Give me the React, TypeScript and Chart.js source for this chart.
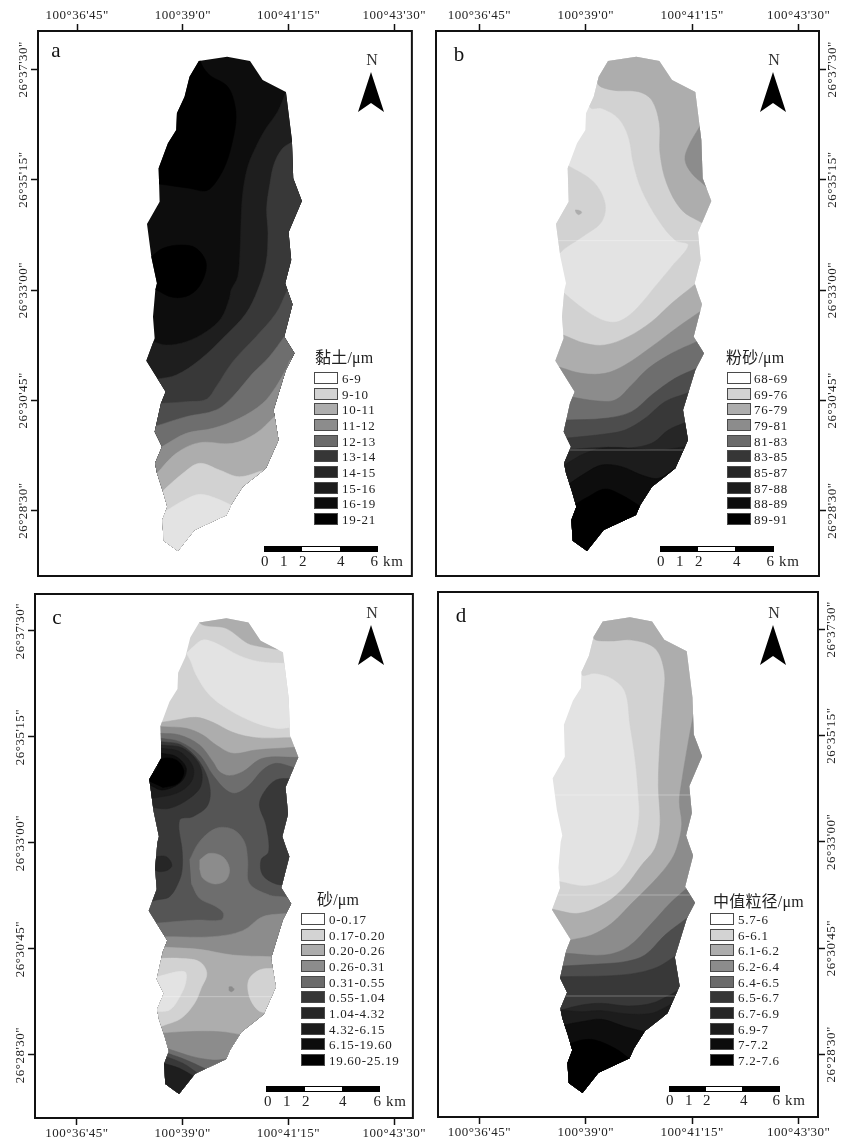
import React, { useEffect, useRef } from "react";
import { Chart, registerables } from "chart.js";

Chart.register(...registerables);

type P = number[];

// Axis values (minutes of arc past 100 deg / 26 deg) and their printed labels
const lonTicks = [36.75, 39, 41.25, 43.5];
const lonLabels = ["100°36'45\"", "100°39'0\"", "100°41'15\"", "100°43'30\""];
const latTicks = [28.5, 30.75, 33, 35.25, 37.5];
const latLabels = ["26°28'30\"", "26°30'45\"", "26°33'00\"", "26°35'15\"", "26°37'30\""];

// Legend classes
const clayClasses = ["6-9", "9-10", "10-11", "11-12", "12-13", "13-14", "14-15", "15-16", "16-19", "19-21"];
const siltClasses = ["68-69", "69-76", "76-79", "79-81", "81-83", "83-85", "85-87", "87-88", "88-89", "89-91"];
const sandClasses = ["0-0.17", "0.17-0.20", "0.20-0.26", "0.26-0.31", "0.31-0.55", "0.55-1.04", "1.04-4.32", "4.32-6.15", "6.15-19.60", "19.60-25.19"];
const medianClasses = ["5.7-6", "6-6.1", "6.1-6.2", "6.2-6.4", "6.4-6.5", "6.5-6.7", "6.7-6.9", "6.9-7", "7-7.2", "7.2-7.6"];
const scaleKm = ["0", "1", "2", "4", "6 km"];

// Basin outline, digitised on a map grid
const basinOutline: P[] = [
  [598,183],[683,170],[752,183],[790,240],[860,276],[878,420],[882,535],[908,603],[868,697],[876,780],[858,850],[868,880],
  [880,913],[855,1010],[886,1060],[860,1110],[823,1230],[838,1320],[800,1405],[775,1425],[730,1460],[695,1515],[682,1545],
  [585,1590],[535,1653],[492,1622],[488,1560],[503,1520],[490,1475],[472,1420],[466,1390],[487,1340],[465,1295],[484,1210],
  [498,1175],[440,1082],[465,1015],[460,950],[467,870],[472,850],[455,770],[442,672],[480,605],[477,505],[505,430],[530,390],
  [532,340],[555,290],[570,230],
];

// Contour regions of each panel, digitised on that panel's own map grid, painted in order
const clayContours: P[][] = [
  [[300,100],[1000,100],[1000,1700],[300,1700]],
  [[598,150],[605,190],[630,225],[680,255],[700,290],[710,350],[700,420],[680,490],[650,545],[620,572],[570,565],[478,552],[400,552],[400,150]],
  [[400,770],[455,770],[490,745],[545,735],[590,745],[620,790],[605,850],[570,885],[520,892],[470,870],[400,870]],
  [[1000,276],[860,276],[835,335],[800,385],[770,440],[745,500],[730,580],[725,660],[722,750],[715,830],[695,870],[690,895],[665,955],[620,995],[560,1025],[500,1035],[460,1025],[400,1025],[400,1700],[1000,1700]],
  [[1000,425],[880,425],[850,445],[825,490],[812,550],[802,625],[806,700],[800,790],[775,870],[740,940],[680,1005],[600,1080],[530,1125],[470,1138],[400,1138],[400,1700],[1000,1700]],
  [[1000,875],[862,875],[830,940],[770,1010],[700,1085],[650,1160],[620,1198],[560,1205],[487,1210],[400,1210],[400,1700],[1000,1700]],
  [[1000,1010],[855,1010],[810,1070],[760,1120],[700,1190],[650,1230],[560,1250],[470,1278],[400,1278],[400,1700],[1000,1700]],
  [[1000,1105],[862,1105],[830,1160],[790,1210],[720,1255],[640,1285],[560,1300],[487,1340],[400,1340],[400,1700],[1000,1700]],
  [[1000,1250],[825,1250],[770,1300],[700,1330],[600,1328],[530,1360],[470,1422],[400,1422],[400,1700],[1000,1700]],
  [[1000,1400],[795,1410],[720,1430],[660,1410],[600,1390],[550,1420],[487,1475],[400,1475],[400,1700],[1000,1700]],
  [[1000,1515],[695,1515],[650,1495],[600,1483],[555,1500],[503,1530],[400,1530],[400,1700],[1000,1700]],
];
const clayTones = ["#0d0d0d","#000000","#000000","#1e1e1e","#383838","#4d4d4d","#6e6e6e","#8c8c8c","#adadad","#d2d2d2","#e3e3e3"];

const siltContours: P[][] = [
  [[300,100],[1000,100],[1000,1700],[300,1700]],
  [[300,495],[430,497],[505,545],[540,610],[530,665],[480,705],[420,745],[402,762],[300,762]],
  [[460,200],[495,322],[530,325],[580,355],[610,410],[625,490],[650,570],[700,660],[750,720],[790,735],[740,800],[690,860],[640,920],[600,955],[565,967],[520,955],[460,915],[418,880],[300,880],[300,1700],[1000,1700],[1000,200]],
  [[517,100],[517,248],[560,270],[640,275],[680,300],[703,370],[705,460],[725,550],[770,630],[830,668],[1000,668],[1000,100]],
  [[1000,378],[825,378],[790,440],[780,480],[800,520],[838,555],[1000,555]],
  [[450,630],[461,631],[470,637],[461,644],[452,637]],
  [[1000,855],[808,855],[740,910],[680,965],[610,1010],[540,1035],[480,1030],[415,1005],[300,1005],[300,1700],[1000,1700]],
  [[1000,935],[825,935],[760,980],[680,1040],[600,1095],[540,1120],[470,1120],[405,1102],[300,1102],[300,1700],[1000,1700]],
  [[1000,1025],[815,1025],[740,1060],[670,1105],[620,1155],[570,1200],[510,1202],[445,1192],[300,1192],[300,1700],[1000,1700]],
  [[1000,1105],[815,1105],[750,1135],[680,1185],[620,1235],[540,1255],[425,1260],[300,1260],[300,1700],[1000,1700]],
  [[1000,1180],[785,1180],[720,1205],[660,1255],[600,1290],[540,1302],[418,1315],[300,1315],[300,1700],[1000,1700]],
  [[1000,1270],[775,1270],[730,1290],[680,1330],[600,1345],[540,1342],[437,1348],[300,1348],[300,1700],[1000,1700]],
  [[1000,1340],[780,1340],[700,1350],[550,1342],[480,1360],[418,1395],[300,1395],[300,1700],[1000,1700]],
  [[1000,1405],[750,1405],[700,1435],[650,1425],[590,1400],[530,1395],[480,1420],[420,1460],[300,1460],[300,1700],[1000,1700]],
  [[1000,1515],[640,1515],[590,1485],[540,1467],[490,1490],[455,1510],[300,1510],[300,1700],[1000,1700]],
];
const siltTones = ["#e3e3e3","#d2d2d2","#d2d2d2","#adadad","#8c8c8c","#adadad","#adadad","#8c8c8c","#6e6e6e","#4d4d4d","#383838","#262626","#1c1c1c","#0d0d0d","#000000"];

const sandContours: P[][] = [
  [[300,50],[1000,50],[1000,1590],[300,1590]],
  [[602,60],[602,115],[680,130],[745,175],[785,185],[815,190],[1000,190],[1000,60]],
  [[575,190],[610,165],[650,175],[720,212],[780,230],[855,235],[1000,235],[1000,428],[868,428],[830,430],[760,410],[690,375],[630,330],[590,270],[572,225],[560,205]],
  [[300,412],[487,412],[530,405],[590,397],[640,412],[700,442],[770,458],[872,458],[1000,458],[1000,1590],[300,1590]],
  [[300,425],[487,425],[560,430],[610,450],[650,480],[700,505],[770,495],[885,487],[1000,487],[1000,1590],[300,1590]],
  [[300,445],[485,445],[540,450],[600,480],[640,530],[660,560],[690,572],[730,560],[790,520],[895,517],[1000,517],[1000,1590],[300,1590]],
  [[300,460],[485,460],[540,470],[600,510],[640,570],[680,615],[710,625],[750,600],[790,555],[830,535],[885,548],[1000,548],[1000,1590],[300,1590]],
  [[300,470],[485,470],[545,480],[600,530],[630,600],[625,660],[580,695],[540,705],[548,800],[548,850],[540,885],[510,935],[470,945],[300,945]],
  [[1000,580],[875,580],[830,585],[795,620],[780,660],[800,720],[808,800],[785,825],[790,870],[830,897],[870,900],[1000,900]],
  [[570,825],[600,770],[650,730],[700,733],[735,770],[745,825],[750,895],[810,930],[850,935],[1000,960],[1000,1590],[300,1590],[300,1015],[465,1015],[590,1005],[665,1005],[672,985],[650,965],[600,940],[575,895]],
  [[600,825],[630,805],[670,815],[690,850],[680,885],[645,897],[610,880],[600,850]],
  [[300,480],[487,480],[550,490],[600,540],[605,600],[570,640],[510,670],[460,668],[300,668]],
  [[300,490],[487,490],[540,500],[580,545],[575,590],[530,625],[456,640],[300,640]],
  [[300,505],[487,505],[530,515],[560,550],[545,590],[490,615],[450,600],[300,600]],
  [[440,585],[470,555],[487,522],[530,525],[553,560],[535,595],[490,608]],
  [[400,815],[468,815],[500,815],[517,840],[505,855],[480,860],[465,855],[400,855]],
  [[300,1055],[503,1055],[640,1055],[730,1037],[790,995],[870,985],[1000,985],[1000,1590],[300,1590]],
  [[300,1087],[505,1087],[600,1093],[700,1110],[815,1115],[1000,1115],[1000,1590],[300,1590]],
  [[300,1120],[485,1120],[540,1120],[600,1130],[622,1165],[605,1210],[585,1255],[545,1300],[490,1322],[300,1322]],
  [[300,1175],[472,1175],[555,1160],[558,1195],[535,1245],[510,1275],[472,1280],[300,1280]],
  [[1000,1150],[820,1150],[780,1155],[748,1185],[750,1235],[775,1275],[800,1285],[1000,1285]],
  [[688,1206],[696,1205],[704,1213],[696,1220],[688,1216]],
  [[300,1345],[483,1345],[560,1340],[660,1340],[730,1350],[1000,1350],[1000,1590],[300,1590]],
  [[300,1393],[510,1393],[580,1415],[640,1425],[680,1422],[1000,1422],[1000,1590],[300,1590]],
  [[300,1405],[505,1405],[560,1425],[615,1450],[1000,1450],[1000,1590],[300,1590]],
  [[300,1415],[500,1415],[550,1435],[595,1465],[1000,1465],[1000,1590],[300,1590]],
  [[300,1435],[493,1435],[540,1450],[585,1475],[1000,1475],[1000,1590],[300,1590]],
];
const sandTones = ["#d2d2d2","#adadad","#e3e3e3","#adadad","#8c8c8c","#6e6e6e","#555555","#383838","#383838","#6e6e6e","#8c8c8c","#262626","#1c1c1c","#0d0d0d","#000000","#262626","#8c8c8c","#adadad","#d2d2d2","#e3e3e3","#d2d2d2","#8c8c8c","#8c8c8c","#6e6e6e","#4d4d4d","#383838","#1e1e1e"];

const medianContours: P[][] = [
  [[300,50],[1000,50],[1000,1590],[300,1590]],
  [[470,100],[470,268],[510,265],[560,280],[600,320],[615,420],[630,520],[640,630],[642,700],[625,780],[585,855],[540,887],[480,903],[405,890],[300,890],[300,1590],[1000,1590],[1000,100]],
  [[505,50],[505,158],[550,168],[620,165],[690,190],[718,260],[715,340],[705,470],[700,600],[705,720],[690,790],[650,840],[600,905],[540,955],[460,985],[383,973],[300,973],[300,1590],[1000,1590],[1000,50]],
  [[1000,390],[805,390],[790,470],[770,590],[763,650],[770,720],[755,790],[735,830],[690,885],[620,955],[560,1015],[500,1050],[437,1065],[300,1065],[300,1590],[1000,1590]],
  [[1000,910],[785,910],[735,955],[680,1015],[610,1085],[540,1110],[425,1105],[300,1105],[300,1590],[1000,1590]],
  [[1000,1000],[785,1000],[720,1050],[660,1110],[600,1130],[520,1137],[415,1143],[300,1143],[300,1590],[1000,1590]],
  [[1000,1115],[748,1115],[700,1145],[640,1163],[560,1172],[408,1175],[300,1175],[300,1590],[1000,1590]],
  [[1000,1230],[735,1230],[680,1255],[610,1263],[530,1255],[470,1260],[408,1275],[300,1275],[300,1590],[1000,1590]],
  [[1000,1265],[725,1265],[680,1285],[610,1287],[530,1277],[470,1280],[408,1275],[300,1290],[300,1590],[1000,1590]],
  [[1000,1340],[658,1340],[600,1325],[530,1303],[470,1310],[417,1320],[300,1320],[300,1590],[1000,1590]],
  [[1000,1420],[612,1420],[570,1390],[510,1365],[470,1365],[443,1373],[300,1373],[300,1590],[1000,1590]],
];
const medianTones = ["#e3e3e3","#d2d2d2","#adadad","#8c8c8c","#6e6e6e","#4d4d4d","#383838","#262626","#1c1c1c","#0d0d0d","#000000"];

// Faint scan streaks across the map, as grid northings
const siltStreaks = [722, 1350];
const sandStreaks = [1235];
const medianStreaks = [630, 930, 1233];

const legendFill = ["#ffffff","#d3d3d3","#adadad","#8c8c8c","#6b6b6b","#363636","#262626","#1c1c1c","#0c0c0c","#000000"];

type Panel = {
  letter: string; title: string; classes: string[]; contours: P[][]; tones: string[]; streaks: number[];
  box: [number, number, number, number]; area: [number, number, number, number];
  xGrid: [number, number]; yGrid: [number, number]; xPos: "top" | "bottom"; yPos: "left" | "right";
  outline: [number, number, number];
  letterAt: [number, number]; northX: number; northY: number;
  legendTitle: [number, number]; swatchX: number; legendY: number; textX: number;
  barX: [number, number]; whiteX: [number, number]; barY: number; scaleX: number[]; scaleY: number;
};

const panels: Panel[] = [
  { letter: "a", title: "黏土/μm", classes: clayClasses, contours: clayContours, tones: clayTones, streaks: [],
    box: [0, 0, 425, 585], area: [38, 31, 413, 576], xGrid: [232, 1186], yGrid: [208, 1532], xPos: "top", yPos: "left",
    outline: [442, 170, 1], letterAt: [56, 50], northX: 372, northY: 60,
    legendTitle: [315, 358], swatchX: 314, legendY: 378, textX: 342,
    barX: [264, 378], whiteX: [302, 340], barY: 546, scaleX: [265, 284, 303, 341, 387], scaleY: 561 },
  { letter: "b", title: "粉砂/μm", classes: siltClasses, contours: siltContours, tones: siltTones, streaks: siltStreaks,
    box: [425, 0, 416, 585], area: [11, 31, 394, 576], xGrid: [163, 1121], yGrid: [208, 1532], xPos: "top", yPos: "right",
    outline: [393, 170, 1], letterAt: [459, 54], northX: 774, northY: 60,
    legendTitle: [726, 358], swatchX: 727, legendY: 378, textX: 754,
    barX: [660, 774], whiteX: [698, 735], barY: 546, scaleX: [661, 680, 699, 737, 783], scaleY: 561 },
  { letter: "c", title: "砂/μm", classes: sandClasses, contours: sandContours, tones: sandTones, streaks: sandStreaks,
    box: [0, 585, 425, 556], area: [35, 9, 414, 533], xGrid: [231, 1186], yGrid: [138, 1410], xPos: "bottom", yPos: "left",
    outline: [449, 100, 0.962], letterAt: [57, 617], northX: 372, northY: 613,
    legendTitle: [317, 900], swatchX: 301, legendY: 919, textX: 329,
    barX: [266, 380], whiteX: [305, 342], barY: 1086, scaleX: [268, 287, 306, 343, 390], scaleY: 1101 },
  { letter: "d", title: "中值粒径/μm", classes: medianClasses, contours: medianContours, tones: medianTones, streaks: medianStreaks,
    box: [425, 585, 416, 556], area: [13, 7, 393, 532], xGrid: [163, 1121], yGrid: [133, 1408], xPos: "bottom", yPos: "right",
    outline: [383, 97, 0.962], letterAt: [461, 615], northX: 774, northY: 613,
    legendTitle: [713, 902], swatchX: 710, legendY: 919, textX: 738,
    barX: [669, 780], whiteX: [706, 742], barY: 1086, scaleX: [670, 689, 707, 744, 789], scaleY: 1100 },
];

const SERIF = '"Liberation Serif", "Noto Sans CJK SC", serif';

// Keeps a contour's curve running straight where it leaves the basin, off the map
const isOffMap = (pt: P) => pt[0] === 300 || pt[0] === 400 || pt[0] === 1000;
function leaveSmoothly(pts: P[]): P[] {
  const out: P[] = [];
  const n = pts.length;
  for (let i = 0; i < n; i++) {
    const cur = pts[i];
    const next = pts[(i + 1) % n];
    const prev = pts[(i - 1 + n) % n];
    const after = pts[(i + 2) % n];
    out.push(cur);
    if (!isOffMap(cur) && isOffMap(next) && !isOffMap(prev)) {
      out.push([cur[0] + (cur[0] - prev[0]) * 0.5, cur[1] + (cur[1] - prev[1]) * 0.5]);
    } else if (isOffMap(cur) && !isOffMap(next) && !isOffMap(after)) {
      out.push([next[0] + (next[0] - after[0]) * 0.5, next[1] + (next[1] - after[1]) * 0.5]);
    }
  }
  return out;
}

function MapPanel({ p }: { p: Panel }) {
  const ref = useRef<HTMLCanvasElement>(null);
  useEffect(() => {
    const [bx0, bx1] = p.xGrid;
    const [by0, by1] = p.yGrid;
    const lon = (g: number) => 36.75 + ((g - bx0) / (bx1 - bx0)) * 6.75;
    const lat = (g: number) => 37.5 - ((g - by0) / (by1 - by0)) * 9;
    const toData = (pts: P[]) => pts.map(([x, y]) => ({ x: lon(x), y: lat(y) }));
    const [ox, oy, s] = p.outline;
    const outlineData = toData(basinOutline.map(([x, y]) => [ox + (x - 442) * s, oy + (y - 170) * s]));
    const [al, at, ar, ab] = p.area;
    const W = p.box[2];
    const H = p.box[3];

    const clipToBasin = {
      id: "clipToBasin",
      beforeDatasetsDraw(chart: any) {
        const { ctx, scales } = chart;
        ctx.save();
        ctx.beginPath();
        outlineData.forEach((d, i) => {
          const px = scales.x.getPixelForValue(d.x);
          const py = scales.y.getPixelForValue(d.y);
          if (i === 0) ctx.moveTo(px, py);
          else ctx.lineTo(px, py);
        });
        ctx.closePath();
        ctx.clip();
      },
      afterDatasetsDraw(chart: any) {
        chart.ctx.restore();
      },
    };
    const frame = {
      id: "frame",
      beforeDraw(chart: any) {
        chart.ctx.letterSpacing = "0.5px";
      },
      afterDraw(chart: any) {
        const { ctx, chartArea: c } = chart;
        ctx.save();
        ctx.strokeStyle = "#111111";
        ctx.lineWidth = 2;
        ctx.strokeRect(c.left, c.top, c.right - c.left, c.bottom - c.top);
        ctx.restore();
      },
    };

    const datasets: any[] = p.contours.map((pts, i) => ({
      data: toData(leaveSmoothly(pts)),
      showLine: true,
      fill: "shape",
      backgroundColor: p.tones[i],
      borderColor: p.tones[i],
      borderWidth: 0.5,
      pointRadius: 0,
      tension: pts.length > 5 ? 0.35 : 0.4,
      order: -i,
    }));
    p.streaks.forEach((y, i) => {
      datasets.push({
        data: toData([[300, y], [1000, y]]),
        showLine: true,
        fill: false,
        borderColor: "rgba(255,255,255,0.3)",
        borderWidth: 1,
        pointRadius: 0,
        order: -1000 - i,
      });
    });

    const axisCommon = {
      grid: { drawOnChartArea: false, drawTicks: true, tickLength: 7, tickWidth: 1.5, tickColor: "#111111" },
      border: { display: false },
    };
    const tickFont = { family: SERIF, size: 13 };
    const chart = new Chart(ref.current as HTMLCanvasElement, {
      type: "scatter",
      data: { datasets },
      options: {
        responsive: false,
        animation: false,
        events: [],
        layout: {
          padding: {
            left: p.yPos === "left" ? 0 : al,
            right: p.yPos === "right" ? 0 : W - ar,
            top: p.xPos === "top" ? 0 : at,
            bottom: p.xPos === "bottom" ? 0 : H - ab,
          },
        },
        plugins: { legend: { display: false }, tooltip: { enabled: false }, title: { display: false } },
        scales: {
          x: {
            type: "linear",
            position: p.xPos,
            min: lon(al * 3),
            max: lon(ar * 3),
            ...axisCommon,
            afterFit: (sc: any) => { sc.height = p.xPos === "top" ? at : H - ab; },
            afterBuildTicks: (sc: any) => { sc.ticks = lonTicks.map((value) => ({ value })); },
            ticks: {
              autoSkip: false, maxRotation: 0, minRotation: 0, padding: 1, color: "#222222", font: tickFont,
              callback: (_v: any, i: number) => lonLabels[i],
            },
          },
          y: {
            type: "linear",
            position: p.yPos,
            min: lat(ab * 3),
            max: lat(at * 3),
            ...axisCommon,
            afterFit: (sc: any) => { sc.width = p.yPos === "left" ? al : W - ar; },
            afterBuildTicks: (sc: any) => { sc.ticks = latTicks.map((value) => ({ value })); },
            ticks: {
              autoSkip: false, minRotation: 90, maxRotation: 90, crossAlign: "center", padding: -19, color: "#222222", font: tickFont,
              callback: (_v: any, i: number) => latLabels[i],
            },
          },
        },
      } as any,
      plugins: [clipToBasin, frame],
    } as any);
    return () => chart.destroy();
  }, [p]);
  return (
    <canvas
      ref={ref}
      width={p.box[2]}
      height={p.box[3]}
      style={{ position: "absolute", left: p.box[0], top: p.box[1], width: p.box[2], height: p.box[3] }}
    />
  );
}

function Overlay({ p }: { p: Panel }) {
  const text = (left: number, top: number, size: number, content: string, key: string, center = true, color = "#222222", spacing = 0.6) => (
    <div
      key={key}
      style={{
        position: "absolute", left, top, fontFamily: SERIF, fontSize: size, lineHeight: 1, color, letterSpacing: spacing,
        whiteSpace: "nowrap", transform: center ? "translate(-50%,-50%)" : "translateY(-50%)",
      }}
    >
      {content}
    </div>
  );
  const nx = p.northX - 1;
  const tip = p.northY + 12;
  const stepY = 15.68;
  return (
    <>
      {text(p.letterAt[0], p.letterAt[1], 21, p.letter, "letter", true, "#111111", 0)}
      {text(p.northX, p.northY, 16, "N", "north", true, "#333333", 0)}
      <svg width={30} height={42} style={{ position: "absolute", left: nx - 15, top: tip - 1 }}>
        <polygon points="15,1 28,41 15,32 2,41" fill="#000000" />
      </svg>
      {text(p.legendTitle[0], p.legendTitle[1], 16, p.title, "title", false, "#222222", 0.2)}
      {p.classes.map((c, i) => (
        <React.Fragment key={c}>
          <div
            style={{
              position: "absolute", left: p.swatchX, top: p.legendY + i * stepY - 6, width: 24, height: 12, boxSizing: "border-box",
              border: "1.5px solid #4a4a4a", background: legendFill[i],
            }}
          />
          {text(p.textX, p.legendY + i * stepY, 13, c, "t" + c, false, "#222222", 0.7)}
        </React.Fragment>
      ))}
      <div style={{ position: "absolute", left: p.barX[0], top: p.barY, width: p.barX[1] - p.barX[0], height: 6, background: "#000000" }} />
      <div style={{ position: "absolute", left: p.whiteX[0], top: p.barY + 1, width: p.whiteX[1] - p.whiteX[0], height: 4, background: "#ffffff" }} />
      {scaleKm.map((t, i) => text(p.scaleX[i], p.scaleY, 15, t, "s" + t, true, "#222222", 0.6))}
    </>
  );
}

export default function App() {
  return (
    <div style={{ position: "absolute", left: 0, top: 0, width: 841, height: 1141, background: "#ffffff", overflow: "hidden", filter: "blur(0.45px)" }}>
      {panels.map((p) => <MapPanel key={p.letter} p={p} />)}
      {panels.map((p) => <Overlay key={p.letter} p={p} />)}
    </div>
  );
}
